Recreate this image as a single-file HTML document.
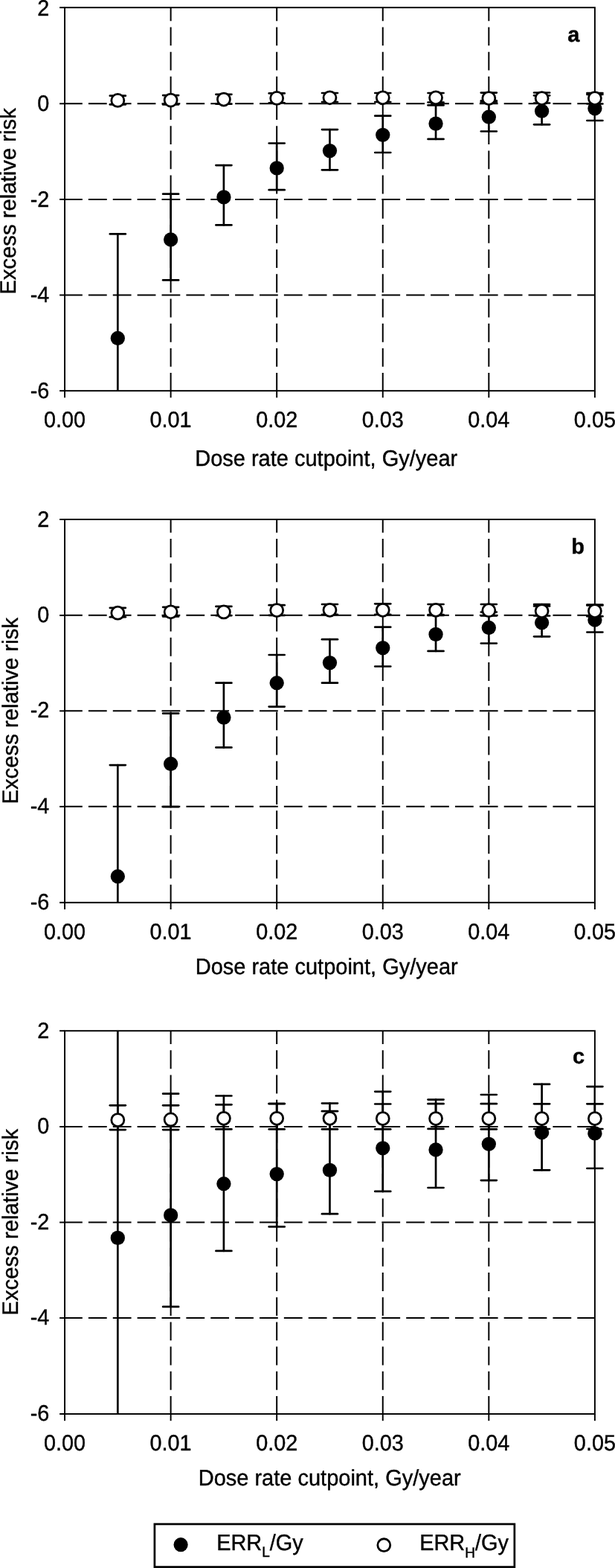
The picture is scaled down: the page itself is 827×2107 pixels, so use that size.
<!DOCTYPE html>
<html lang="en"><head><meta charset="utf-8"><title>Excess relative risk by dose rate cutpoint</title>
<style>html,body{margin:0;padding:0;background:#fff}body{width:827px;height:2107px;overflow:hidden}svg{display:block;text-rendering:geometricPrecision}text{font-family:"Liberation Sans",sans-serif;fill:#000;stroke:#000;stroke-width:0.4px;stroke-linejoin:round}</style></head><body>
<svg width="827" height="2107" viewBox="0 0 827 2107">
<rect width="827" height="2107" fill="#fff"/>
<g id="panel-a">
<clipPath id="clip-a"><rect x="87.05" y="10.16" width="712.85" height="515"/></clipPath>
<g stroke="#000" stroke-width="2.0" fill="none" stroke-dasharray="24.8 8.07">
<line x1="86.03" y1="139.31" x2="799.9" y2="139.31"/>
<line x1="86.03" y1="267.91" x2="799.9" y2="267.91"/>
<line x1="86.03" y1="396.51" x2="799.9" y2="396.51"/>
</g>
<g stroke="#000" stroke-width="2.0" fill="none" stroke-dasharray="24.9 8.29">
<line x1="229.62" y1="526.01" x2="229.62" y2="10.16"/>
<line x1="372.19" y1="526.01" x2="372.19" y2="10.16"/>
<line x1="514.76" y1="526.01" x2="514.76" y2="10.16"/>
<line x1="657.33" y1="526.01" x2="657.33" y2="10.16"/>
</g>
<g stroke="#000" stroke-width="1.95" fill="none">
<rect x="87.05" y="10.16" width="712.85" height="515"/>
<line x1="80.1" y1="10.16" x2="87.05" y2="10.16"/>
<line x1="80.1" y1="139.31" x2="87.05" y2="139.31"/>
<line x1="80.1" y1="267.91" x2="87.05" y2="267.91"/>
<line x1="80.1" y1="396.51" x2="87.05" y2="396.51"/>
<line x1="80.1" y1="525.16" x2="87.05" y2="525.16"/>
<line x1="87.05" y1="525.16" x2="87.05" y2="534.36"/>
<line x1="229.62" y1="525.16" x2="229.62" y2="534.36"/>
<line x1="372.19" y1="525.16" x2="372.19" y2="534.36"/>
<line x1="514.76" y1="525.16" x2="514.76" y2="534.36"/>
<line x1="657.33" y1="525.16" x2="657.33" y2="534.36"/>
<line x1="799.9" y1="525.16" x2="799.9" y2="534.36"/>
</g>
<g stroke="#000" stroke-width="2.7" stroke-linecap="round" fill="none" clip-path="url(#clip-a)">
<line x1="158.33" y1="314.4" x2="158.33" y2="545.16"/>
<line x1="229.62" y1="260.7" x2="229.62" y2="376.4"/>
<line x1="300.9" y1="222.1" x2="300.9" y2="302.4"/>
<line x1="372.19" y1="192.5" x2="372.19" y2="255.2"/>
<line x1="443.47" y1="174.1" x2="443.47" y2="228.3"/>
<line x1="514.76" y1="155.7" x2="514.76" y2="205"/>
<line x1="586.04" y1="141.4" x2="586.04" y2="186.9"/>
<line x1="657.33" y1="135.4" x2="657.33" y2="176.5"/>
<line x1="728.61" y1="128.3" x2="728.61" y2="167.3"/>
<line x1="799.9" y1="127" x2="799.9" y2="162"/>
</g>
<g stroke="#000" stroke-width="2.7" stroke-linecap="round" fill="none">
<line x1="147.83" y1="314.4" x2="168.83" y2="314.4"/>
<line x1="219.12" y1="260.7" x2="240.12" y2="260.7"/>
<line x1="219.12" y1="376.4" x2="240.12" y2="376.4"/>
<line x1="290.4" y1="222.1" x2="311.4" y2="222.1"/>
<line x1="290.4" y1="302.4" x2="311.4" y2="302.4"/>
<line x1="361.69" y1="192.5" x2="382.69" y2="192.5"/>
<line x1="361.69" y1="255.2" x2="382.69" y2="255.2"/>
<line x1="432.97" y1="174.1" x2="453.97" y2="174.1"/>
<line x1="432.97" y1="228.3" x2="453.97" y2="228.3"/>
<line x1="504.26" y1="155.7" x2="525.26" y2="155.7"/>
<line x1="504.26" y1="205" x2="525.26" y2="205"/>
<line x1="575.54" y1="141.4" x2="596.54" y2="141.4"/>
<line x1="575.54" y1="186.9" x2="596.54" y2="186.9"/>
<line x1="646.83" y1="135.4" x2="667.83" y2="135.4"/>
<line x1="646.83" y1="176.5" x2="667.83" y2="176.5"/>
<line x1="718.11" y1="128.3" x2="739.11" y2="128.3"/>
<line x1="718.11" y1="167.3" x2="739.11" y2="167.3"/>
<line x1="789.4" y1="127" x2="810.4" y2="127"/>
<line x1="789.4" y1="162" x2="810.4" y2="162"/>
</g>
<g fill="#000">
<circle cx="158.33" cy="454.5" r="9.65"/>
<circle cx="229.62" cy="322" r="9.65"/>
<circle cx="300.9" cy="264.9" r="9.65"/>
<circle cx="372.19" cy="225.9" r="9.65"/>
<circle cx="443.47" cy="202.6" r="9.65"/>
<circle cx="514.76" cy="181.3" r="9.65"/>
<circle cx="586.04" cy="166.1" r="9.65"/>
<circle cx="657.33" cy="157.2" r="9.65"/>
<circle cx="728.61" cy="149.2" r="9.65"/>
<circle cx="799.9" cy="145.8" r="9.65"/>
</g>
<g stroke="#000" stroke-width="2.7" stroke-linecap="round" fill="none">
<line x1="158.33" y1="128.7" x2="158.33" y2="140.4"/>
<line x1="147.83" y1="128.7" x2="168.83" y2="128.7"/>
<line x1="147.83" y1="140.4" x2="168.83" y2="140.4"/>
<line x1="229.62" y1="128.1" x2="229.62" y2="140.4"/>
<line x1="219.12" y1="128.1" x2="240.12" y2="128.1"/>
<line x1="219.12" y1="140.4" x2="240.12" y2="140.4"/>
<line x1="300.9" y1="126.8" x2="300.9" y2="139.7"/>
<line x1="290.4" y1="126.8" x2="311.4" y2="126.8"/>
<line x1="290.4" y1="139.7" x2="311.4" y2="139.7"/>
<line x1="372.19" y1="125.4" x2="372.19" y2="138.3"/>
<line x1="361.69" y1="125.4" x2="382.69" y2="125.4"/>
<line x1="361.69" y1="138.3" x2="382.69" y2="138.3"/>
<line x1="443.47" y1="125" x2="443.47" y2="137"/>
<line x1="432.97" y1="125" x2="453.97" y2="125"/>
<line x1="432.97" y1="137" x2="453.97" y2="137"/>
<line x1="514.76" y1="125" x2="514.76" y2="137"/>
<line x1="504.26" y1="125" x2="525.26" y2="125"/>
<line x1="504.26" y1="137" x2="525.26" y2="137"/>
<line x1="586.04" y1="125" x2="586.04" y2="137.5"/>
<line x1="575.54" y1="125" x2="596.54" y2="125"/>
<line x1="575.54" y1="137.5" x2="596.54" y2="137.5"/>
<line x1="657.33" y1="124.6" x2="657.33" y2="137.2"/>
<line x1="646.83" y1="124.6" x2="667.83" y2="124.6"/>
<line x1="646.83" y1="137.2" x2="667.83" y2="137.2"/>
<line x1="728.61" y1="124.5" x2="728.61" y2="138.5"/>
<line x1="718.11" y1="124.5" x2="739.11" y2="124.5"/>
<line x1="718.11" y1="138.5" x2="739.11" y2="138.5"/>
<line x1="799.9" y1="125" x2="799.9" y2="139.5"/>
<line x1="789.4" y1="125" x2="810.4" y2="125"/>
<line x1="789.4" y1="139.5" x2="810.4" y2="139.5"/>
</g>
<g fill="#fff" stroke="#000" stroke-width="2.75">
<circle cx="158.33" cy="134.9" r="8.5"/>
<circle cx="229.62" cy="134.6" r="8.5"/>
<circle cx="300.9" cy="133.5" r="8.5"/>
<circle cx="372.19" cy="131.9" r="8.5"/>
<circle cx="443.47" cy="131.3" r="8.5"/>
<circle cx="514.76" cy="131.3" r="8.5"/>
<circle cx="586.04" cy="131.3" r="8.5"/>
<circle cx="657.33" cy="132" r="8.5"/>
<circle cx="728.61" cy="132" r="8.5"/>
<circle cx="799.9" cy="132" r="8.5"/>
</g>
<text font-size="28.8" text-anchor="end" transform="translate(66.3 20.56) scale(1 1.04)">2</text>
<text font-size="28.8" text-anchor="end" transform="translate(66.3 149.01) scale(1 1.04)">0</text>
<text font-size="28.8" text-anchor="end" transform="translate(66.3 277.61) scale(1 1.04)">-2</text>
<text font-size="28.8" text-anchor="end" transform="translate(66.3 406.21) scale(1 1.04)">-4</text>
<text font-size="28.8" text-anchor="end" transform="translate(66.3 534.86) scale(1 1.04)">-6</text>
<text font-size="28.8" text-anchor="middle" transform="translate(87.05 574.06) scale(1 1.04)">0.00</text>
<text font-size="28.8" text-anchor="middle" transform="translate(229.62 574.06) scale(1 1.04)">0.01</text>
<text font-size="28.8" text-anchor="middle" transform="translate(372.19 574.06) scale(1 1.04)">0.02</text>
<text font-size="28.8" text-anchor="middle" transform="translate(514.76 574.06) scale(1 1.04)">0.03</text>
<text font-size="28.8" text-anchor="middle" transform="translate(657.33 574.06) scale(1 1.04)">0.04</text>
<text font-size="28.8" text-anchor="middle" transform="translate(799.9 574.06) scale(1 1.04)">0.05</text>
<text font-size="29" text-anchor="middle" transform="translate(438.7 625.65) scale(1 1.04)">Dose rate cutpoint, Gy/year</text>
<text font-size="29.3" text-anchor="middle" transform="translate(20.9 270.46) rotate(-90) scale(1 1.02)">Excess relative risk</text>
<text font-size="29" font-weight="bold" text-anchor="middle" x="771.3" y="55.56">a</text>
</g>
<g id="panel-b">
<clipPath id="clip-b"><rect x="87.05" y="697.96" width="712.85" height="514.84"/></clipPath>
<g stroke="#000" stroke-width="2.0" fill="none" stroke-dasharray="24.8 8.07">
<line x1="86.03" y1="826.86" x2="799.9" y2="826.86"/>
<line x1="86.03" y1="955.36" x2="799.9" y2="955.36"/>
<line x1="86.03" y1="1083.86" x2="799.9" y2="1083.86"/>
</g>
<g stroke="#000" stroke-width="2.0" fill="none" stroke-dasharray="24.9 8.29">
<line x1="229.62" y1="1213.65" x2="229.62" y2="697.96"/>
<line x1="372.19" y1="1213.65" x2="372.19" y2="697.96"/>
<line x1="514.76" y1="1213.65" x2="514.76" y2="697.96"/>
<line x1="657.33" y1="1213.65" x2="657.33" y2="697.96"/>
</g>
<g stroke="#000" stroke-width="1.95" fill="none">
<rect x="87.05" y="697.96" width="712.85" height="514.84"/>
<line x1="80.1" y1="697.96" x2="87.05" y2="697.96"/>
<line x1="80.1" y1="826.86" x2="87.05" y2="826.86"/>
<line x1="80.1" y1="955.36" x2="87.05" y2="955.36"/>
<line x1="80.1" y1="1083.86" x2="87.05" y2="1083.86"/>
<line x1="80.1" y1="1212.8" x2="87.05" y2="1212.8"/>
<line x1="87.05" y1="1212.8" x2="87.05" y2="1222"/>
<line x1="229.62" y1="1212.8" x2="229.62" y2="1222"/>
<line x1="372.19" y1="1212.8" x2="372.19" y2="1222"/>
<line x1="514.76" y1="1212.8" x2="514.76" y2="1222"/>
<line x1="657.33" y1="1212.8" x2="657.33" y2="1222"/>
<line x1="799.9" y1="1212.8" x2="799.9" y2="1222"/>
</g>
<g stroke="#000" stroke-width="2.7" stroke-linecap="round" fill="none" clip-path="url(#clip-b)">
<line x1="158.33" y1="1028.1" x2="158.33" y2="1232.8"/>
<line x1="229.62" y1="958.7" x2="229.62" y2="1084.2"/>
<line x1="300.9" y1="917.7" x2="300.9" y2="1004.4"/>
<line x1="372.19" y1="880" x2="372.19" y2="949.6"/>
<line x1="443.47" y1="859.2" x2="443.47" y2="917.7"/>
<line x1="514.76" y1="842.7" x2="514.76" y2="895.5"/>
<line x1="586.04" y1="827" x2="586.04" y2="874.9"/>
<line x1="657.33" y1="822.5" x2="657.33" y2="864.5"/>
<line x1="728.61" y1="814.4" x2="728.61" y2="855.3"/>
<line x1="799.9" y1="813.5" x2="799.9" y2="849.5"/>
</g>
<g stroke="#000" stroke-width="2.7" stroke-linecap="round" fill="none">
<line x1="147.83" y1="1028.1" x2="168.83" y2="1028.1"/>
<line x1="219.12" y1="958.7" x2="240.12" y2="958.7"/>
<line x1="219.12" y1="1084.2" x2="240.12" y2="1084.2"/>
<line x1="290.4" y1="917.7" x2="311.4" y2="917.7"/>
<line x1="290.4" y1="1004.4" x2="311.4" y2="1004.4"/>
<line x1="361.69" y1="880" x2="382.69" y2="880"/>
<line x1="361.69" y1="949.6" x2="382.69" y2="949.6"/>
<line x1="432.97" y1="859.2" x2="453.97" y2="859.2"/>
<line x1="432.97" y1="917.7" x2="453.97" y2="917.7"/>
<line x1="504.26" y1="842.7" x2="525.26" y2="842.7"/>
<line x1="504.26" y1="895.5" x2="525.26" y2="895.5"/>
<line x1="575.54" y1="827" x2="596.54" y2="827"/>
<line x1="575.54" y1="874.9" x2="596.54" y2="874.9"/>
<line x1="646.83" y1="822.5" x2="667.83" y2="822.5"/>
<line x1="646.83" y1="864.5" x2="667.83" y2="864.5"/>
<line x1="718.11" y1="814.4" x2="739.11" y2="814.4"/>
<line x1="718.11" y1="855.3" x2="739.11" y2="855.3"/>
<line x1="789.4" y1="813.5" x2="810.4" y2="813.5"/>
<line x1="789.4" y1="849.5" x2="810.4" y2="849.5"/>
</g>
<g fill="#000">
<circle cx="158.33" cy="1177.7" r="9.65"/>
<circle cx="229.62" cy="1026.5" r="9.65"/>
<circle cx="300.9" cy="964.1" r="9.65"/>
<circle cx="372.19" cy="917.7" r="9.65"/>
<circle cx="443.47" cy="890.6" r="9.65"/>
<circle cx="514.76" cy="870.6" r="9.65"/>
<circle cx="586.04" cy="852.4" r="9.65"/>
<circle cx="657.33" cy="843.5" r="9.65"/>
<circle cx="728.61" cy="836.7" r="9.65"/>
<circle cx="799.9" cy="833" r="9.65"/>
</g>
<g stroke="#000" stroke-width="2.7" stroke-linecap="round" fill="none">
<line x1="158.33" y1="816.8" x2="158.33" y2="829.2"/>
<line x1="147.83" y1="816.8" x2="168.83" y2="816.8"/>
<line x1="147.83" y1="829.2" x2="168.83" y2="829.2"/>
<line x1="229.62" y1="815.8" x2="229.62" y2="828.4"/>
<line x1="219.12" y1="815.8" x2="240.12" y2="815.8"/>
<line x1="219.12" y1="828.4" x2="240.12" y2="828.4"/>
<line x1="300.9" y1="814.9" x2="300.9" y2="827.1"/>
<line x1="290.4" y1="814.9" x2="311.4" y2="814.9"/>
<line x1="290.4" y1="827.1" x2="311.4" y2="827.1"/>
<line x1="372.19" y1="813.2" x2="372.19" y2="826.8"/>
<line x1="361.69" y1="813.2" x2="382.69" y2="813.2"/>
<line x1="361.69" y1="826.8" x2="382.69" y2="826.8"/>
<line x1="443.47" y1="812" x2="443.47" y2="825.8"/>
<line x1="432.97" y1="812" x2="453.97" y2="812"/>
<line x1="432.97" y1="825.8" x2="453.97" y2="825.8"/>
<line x1="514.76" y1="811.3" x2="514.76" y2="825.8"/>
<line x1="504.26" y1="811.3" x2="525.26" y2="811.3"/>
<line x1="504.26" y1="825.8" x2="525.26" y2="825.8"/>
<line x1="586.04" y1="812" x2="586.04" y2="826.2"/>
<line x1="575.54" y1="812" x2="596.54" y2="812"/>
<line x1="575.54" y1="826.2" x2="596.54" y2="826.2"/>
<line x1="657.33" y1="812" x2="657.33" y2="827.5"/>
<line x1="646.83" y1="812" x2="667.83" y2="812"/>
<line x1="646.83" y1="827.5" x2="667.83" y2="827.5"/>
<line x1="728.61" y1="812" x2="728.61" y2="827.5"/>
<line x1="718.11" y1="812" x2="739.11" y2="812"/>
<line x1="718.11" y1="827.5" x2="739.11" y2="827.5"/>
<line x1="799.9" y1="812.5" x2="799.9" y2="828.2"/>
<line x1="789.4" y1="812.5" x2="810.4" y2="812.5"/>
<line x1="789.4" y1="828.2" x2="810.4" y2="828.2"/>
</g>
<g fill="#fff" stroke="#000" stroke-width="2.75">
<circle cx="158.33" cy="823.7" r="8.5"/>
<circle cx="229.62" cy="822.3" r="8.5"/>
<circle cx="300.9" cy="822.4" r="8.5"/>
<circle cx="372.19" cy="820" r="8.5"/>
<circle cx="443.47" cy="819.8" r="8.5"/>
<circle cx="514.76" cy="819.8" r="8.5"/>
<circle cx="586.04" cy="819.8" r="8.5"/>
<circle cx="657.33" cy="820.2" r="8.5"/>
<circle cx="728.61" cy="821" r="8.5"/>
<circle cx="799.9" cy="821" r="8.5"/>
</g>
<text font-size="28.8" text-anchor="end" transform="translate(66.3 707.66) scale(1 1.04)">2</text>
<text font-size="28.8" text-anchor="end" transform="translate(66.3 835.86) scale(1 1.04)">0</text>
<text font-size="28.8" text-anchor="end" transform="translate(66.3 964.36) scale(1 1.04)">-2</text>
<text font-size="28.8" text-anchor="end" transform="translate(66.3 1092.86) scale(1 1.04)">-4</text>
<text font-size="28.8" text-anchor="end" transform="translate(66.3 1221.8) scale(1 1.04)">-6</text>
<text font-size="28.8" text-anchor="middle" transform="translate(87.05 1261.6) scale(1 1.04)">0.00</text>
<text font-size="28.8" text-anchor="middle" transform="translate(229.62 1261.6) scale(1 1.04)">0.01</text>
<text font-size="28.8" text-anchor="middle" transform="translate(372.19 1261.6) scale(1 1.04)">0.02</text>
<text font-size="28.8" text-anchor="middle" transform="translate(514.76 1261.6) scale(1 1.04)">0.03</text>
<text font-size="28.8" text-anchor="middle" transform="translate(657.33 1261.6) scale(1 1.04)">0.04</text>
<text font-size="28.8" text-anchor="middle" transform="translate(799.9 1261.6) scale(1 1.04)">0.05</text>
<text font-size="29" text-anchor="middle" transform="translate(439.2 1309.0) scale(1 1.04)">Dose rate cutpoint, Gy/year</text>
<text font-size="29.3" text-anchor="middle" transform="translate(24.2 955.26) rotate(-90) scale(1 1.02)">Excess relative risk</text>
<text font-size="29" font-weight="bold" text-anchor="middle" x="777.2" y="743.56">b</text>
</g>
<g id="panel-c">
<clipPath id="clip-c"><rect x="87.05" y="1385.2" width="712.85" height="514.8"/></clipPath>
<g stroke="#000" stroke-width="2.0" fill="none" stroke-dasharray="24.8 8.07">
<line x1="86.03" y1="1514.05" x2="799.9" y2="1514.05"/>
<line x1="86.03" y1="1642.55" x2="799.9" y2="1642.55"/>
<line x1="86.03" y1="1771.05" x2="799.9" y2="1771.05"/>
</g>
<g stroke="#000" stroke-width="2.0" fill="none" stroke-dasharray="24.9 8.29">
<line x1="229.62" y1="1900.85" x2="229.62" y2="1385.2"/>
<line x1="372.19" y1="1900.85" x2="372.19" y2="1385.2"/>
<line x1="514.76" y1="1900.85" x2="514.76" y2="1385.2"/>
<line x1="657.33" y1="1900.85" x2="657.33" y2="1385.2"/>
</g>
<g stroke="#000" stroke-width="1.95" fill="none">
<rect x="87.05" y="1385.2" width="712.85" height="514.8"/>
<line x1="80.1" y1="1385.2" x2="87.05" y2="1385.2"/>
<line x1="80.1" y1="1514.05" x2="87.05" y2="1514.05"/>
<line x1="80.1" y1="1642.55" x2="87.05" y2="1642.55"/>
<line x1="80.1" y1="1771.05" x2="87.05" y2="1771.05"/>
<line x1="80.1" y1="1900" x2="87.05" y2="1900"/>
<line x1="87.05" y1="1900" x2="87.05" y2="1909.2"/>
<line x1="229.62" y1="1900" x2="229.62" y2="1909.2"/>
<line x1="372.19" y1="1900" x2="372.19" y2="1909.2"/>
<line x1="514.76" y1="1900" x2="514.76" y2="1909.2"/>
<line x1="657.33" y1="1900" x2="657.33" y2="1909.2"/>
<line x1="799.9" y1="1900" x2="799.9" y2="1909.2"/>
</g>
<g stroke="#000" stroke-width="2.7" stroke-linecap="round" fill="none" clip-path="url(#clip-c)">
<line x1="158.33" y1="1365.2" x2="158.33" y2="1920"/>
<line x1="229.62" y1="1469.7" x2="229.62" y2="1755.9"/>
<line x1="300.9" y1="1472.5" x2="300.9" y2="1680.9"/>
<line x1="372.19" y1="1483.2" x2="372.19" y2="1648.4"/>
<line x1="443.47" y1="1493.2" x2="443.47" y2="1631.2"/>
<line x1="514.76" y1="1466.8" x2="514.76" y2="1600.9"/>
<line x1="586.04" y1="1477.6" x2="586.04" y2="1596"/>
<line x1="657.33" y1="1471" x2="657.33" y2="1586.1"/>
<line x1="728.61" y1="1456.9" x2="728.61" y2="1572.3"/>
<line x1="799.9" y1="1460.1" x2="799.9" y2="1570"/>
</g>
<g stroke="#000" stroke-width="2.7" stroke-linecap="round" fill="none">
<line x1="219.12" y1="1469.7" x2="240.12" y2="1469.7"/>
<line x1="219.12" y1="1755.9" x2="240.12" y2="1755.9"/>
<line x1="290.4" y1="1472.5" x2="311.4" y2="1472.5"/>
<line x1="290.4" y1="1680.9" x2="311.4" y2="1680.9"/>
<line x1="361.69" y1="1483.2" x2="382.69" y2="1483.2"/>
<line x1="361.69" y1="1648.4" x2="382.69" y2="1648.4"/>
<line x1="432.97" y1="1493.2" x2="453.97" y2="1493.2"/>
<line x1="432.97" y1="1631.2" x2="453.97" y2="1631.2"/>
<line x1="504.26" y1="1466.8" x2="525.26" y2="1466.8"/>
<line x1="504.26" y1="1600.9" x2="525.26" y2="1600.9"/>
<line x1="575.54" y1="1477.6" x2="596.54" y2="1477.6"/>
<line x1="575.54" y1="1596" x2="596.54" y2="1596"/>
<line x1="646.83" y1="1471" x2="667.83" y2="1471"/>
<line x1="646.83" y1="1586.1" x2="667.83" y2="1586.1"/>
<line x1="718.11" y1="1456.9" x2="739.11" y2="1456.9"/>
<line x1="718.11" y1="1572.3" x2="739.11" y2="1572.3"/>
<line x1="789.4" y1="1460.1" x2="810.4" y2="1460.1"/>
<line x1="789.4" y1="1570" x2="810.4" y2="1570"/>
</g>
<g fill="#000">
<circle cx="158.33" cy="1663.4" r="9.65"/>
<circle cx="229.62" cy="1632.9" r="9.65"/>
<circle cx="300.9" cy="1590.7" r="9.65"/>
<circle cx="372.19" cy="1577.6" r="9.65"/>
<circle cx="443.47" cy="1572.4" r="9.65"/>
<circle cx="514.76" cy="1542.8" r="9.65"/>
<circle cx="586.04" cy="1545" r="9.65"/>
<circle cx="657.33" cy="1537.3" r="9.65"/>
<circle cx="728.61" cy="1521.8" r="9.65"/>
<circle cx="799.9" cy="1522.9" r="9.65"/>
</g>
<g stroke="#000" stroke-width="2.7" stroke-linecap="round" fill="none">
<line x1="158.33" y1="1485.3" x2="158.33" y2="1518.1"/>
<line x1="147.83" y1="1485.3" x2="168.83" y2="1485.3"/>
<line x1="147.83" y1="1518.1" x2="168.83" y2="1518.1"/>
<line x1="229.62" y1="1485.3" x2="229.62" y2="1518.1"/>
<line x1="219.12" y1="1485.3" x2="240.12" y2="1485.3"/>
<line x1="219.12" y1="1518.1" x2="240.12" y2="1518.1"/>
<line x1="300.9" y1="1484.3" x2="300.9" y2="1517.4"/>
<line x1="290.4" y1="1484.3" x2="311.4" y2="1484.3"/>
<line x1="290.4" y1="1517.4" x2="311.4" y2="1517.4"/>
<line x1="372.19" y1="1483" x2="372.19" y2="1517.4"/>
<line x1="361.69" y1="1483" x2="382.69" y2="1483"/>
<line x1="361.69" y1="1517.4" x2="382.69" y2="1517.4"/>
<line x1="443.47" y1="1482.6" x2="443.47" y2="1517.4"/>
<line x1="432.97" y1="1482.6" x2="453.97" y2="1482.6"/>
<line x1="432.97" y1="1517.4" x2="453.97" y2="1517.4"/>
<line x1="514.76" y1="1483.5" x2="514.76" y2="1517.4"/>
<line x1="504.26" y1="1483.5" x2="525.26" y2="1483.5"/>
<line x1="504.26" y1="1517.4" x2="525.26" y2="1517.4"/>
<line x1="586.04" y1="1483.2" x2="586.04" y2="1516.9"/>
<line x1="575.54" y1="1483.2" x2="596.54" y2="1483.2"/>
<line x1="575.54" y1="1516.9" x2="596.54" y2="1516.9"/>
<line x1="657.33" y1="1483.2" x2="657.33" y2="1517.4"/>
<line x1="646.83" y1="1483.2" x2="667.83" y2="1483.2"/>
<line x1="646.83" y1="1517.4" x2="667.83" y2="1517.4"/>
<line x1="728.61" y1="1483.3" x2="728.61" y2="1517"/>
<line x1="718.11" y1="1483.3" x2="739.11" y2="1483.3"/>
<line x1="718.11" y1="1517" x2="739.11" y2="1517"/>
<line x1="799.9" y1="1483.3" x2="799.9" y2="1517"/>
<line x1="789.4" y1="1483.3" x2="810.4" y2="1483.3"/>
<line x1="789.4" y1="1517" x2="810.4" y2="1517"/>
</g>
<g fill="#fff" stroke="#000" stroke-width="2.75">
<circle cx="158.33" cy="1505" r="8.5"/>
<circle cx="229.62" cy="1504.4" r="8.5"/>
<circle cx="300.9" cy="1502.8" r="8.5"/>
<circle cx="372.19" cy="1502.8" r="8.5"/>
<circle cx="443.47" cy="1502.8" r="8.5"/>
<circle cx="514.76" cy="1503" r="8.5"/>
<circle cx="586.04" cy="1503" r="8.5"/>
<circle cx="657.33" cy="1503" r="8.5"/>
<circle cx="728.61" cy="1503" r="8.5"/>
<circle cx="799.9" cy="1503" r="8.5"/>
</g>
<text font-size="28.8" text-anchor="end" transform="translate(66.3 1394.95) scale(1 1.04)">2</text>
<text font-size="28.8" text-anchor="end" transform="translate(66.3 1523.1) scale(1 1.04)">0</text>
<text font-size="28.8" text-anchor="end" transform="translate(66.3 1651.6) scale(1 1.04)">-2</text>
<text font-size="28.8" text-anchor="end" transform="translate(66.3 1780.1) scale(1 1.04)">-4</text>
<text font-size="28.8" text-anchor="end" transform="translate(66.3 1909.05) scale(1 1.04)">-6</text>
<text font-size="28.8" text-anchor="middle" transform="translate(87.05 1949.05) scale(1 1.04)">0.00</text>
<text font-size="28.8" text-anchor="middle" transform="translate(229.62 1949.05) scale(1 1.04)">0.01</text>
<text font-size="28.8" text-anchor="middle" transform="translate(372.19 1949.05) scale(1 1.04)">0.02</text>
<text font-size="28.8" text-anchor="middle" transform="translate(514.76 1949.05) scale(1 1.04)">0.03</text>
<text font-size="28.8" text-anchor="middle" transform="translate(657.33 1949.05) scale(1 1.04)">0.04</text>
<text font-size="28.8" text-anchor="middle" transform="translate(799.9 1949.05) scale(1 1.04)">0.05</text>
<text font-size="29" text-anchor="middle" transform="translate(443.2 1996.4) scale(1 1.04)">Dose rate cutpoint, Gy/year</text>
<text font-size="29.3" text-anchor="middle" transform="translate(24.2 1642.3) rotate(-90) scale(1 1.02)">Excess relative risk</text>
<text font-size="29" font-weight="bold" text-anchor="middle" x="778.0" y="1428.5">c</text>
</g>
<g id="legend">
<rect x="207.9" y="2048" width="483.95" height="57.6" fill="#fff" stroke="#000" stroke-width="2.7"/>
<circle cx="243.1" cy="2075.7" r="9.6" fill="#000"/>
<circle cx="516.3" cy="2076.2" r="8.45" fill="#fff" stroke="#000" stroke-width="2.8"/>
<text font-size="28.9" transform="translate(291.2 2082.8) scale(1 1.04)">ERR<tspan font-size="19" dy="9.3">L</tspan><tspan dy="-9.3">/Gy</tspan></text>
<text font-size="28.9" transform="translate(564.2 2082.9) scale(1 1.04)">ERR<tspan font-size="19" dy="9.3">H</tspan><tspan dy="-9.3">/Gy</tspan></text>
</g>
</svg></body></html>
